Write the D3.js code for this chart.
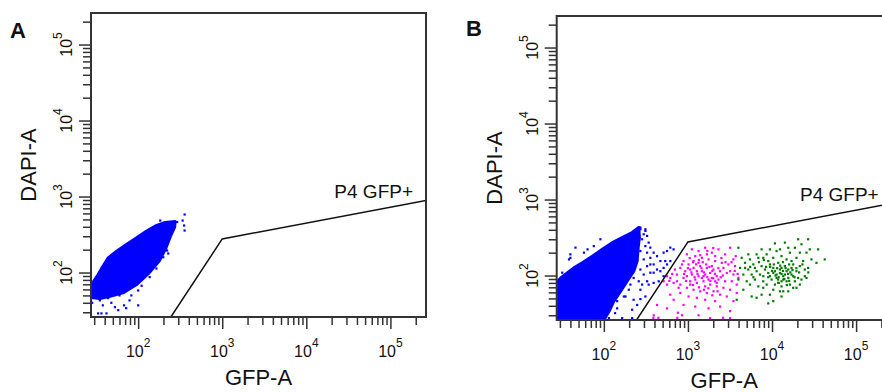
<!DOCTYPE html>
<html><head><meta charset="utf-8">
<script src="https://cdn.jsdelivr.net/npm/d3@7"></script>
<style>
body{margin:0;background:#fff}
svg{display:block}
text{font-family:"Liberation Sans",Arial,sans-serif;fill:#111}
</style>
</head><body>
<svg id="chart" width="882" height="392"></svg>
<script>
// ---------- data ----------
const xDomain = [27.5, 265000];
const yDomain = [26, 260000];
const majorTicks = [100, 1000, 10000, 100000];
const majorExp = ["2", "3", "4", "5"];
const xMinorTicks = [30,40,50,60,70,80,90,200,300,400,500,600,700,800,900,2000,3000,4000,5000,6000,7000,8000,9000,20000,30000,40000,50000,60000,70000,80000,90000,200000];
const yMinorTicks = [30,40,50,60,70,80,90,200,300,400,500,600,700,800,900,2000,3000,4000,5000,6000,7000,8000,9000,20000,30000,40000,50000,60000,70000,80000,90000,200000];
const xTitle = "GFP-A";
const yTitle = "DAPI-A";
const gateName = "P4 GFP+";
const gate = [[245,26],[1000,277],[265000,886]];

// Panel A: dense blue population outline (GFP, DAPI)
const blueCoreA = [[275,468],[210,455],[160,410],[125,350],[95,285],[71,230],[56,192],[44,156],[38,120],[33,92],[28.5,72],[27.6,68],[27.6,47],[35,45.5],[44,48],[66,54],[95,69],[136,100],[178,142],[214,210],[245,310],[272,395]];
// Panel A: scattered blue events
const blueSparseA = [[357,580],[338,483],[352,416],[357,357],[183,483],[291,462],[250,326],[228,178],[221,195],[199,159],[165,113],[137,87],[110,67],[100,58],[83,50],[79,43],[68,37],[58,32],[72,34],[48,40],[38,37],[33.4,29],[36.6,29],[42,29],[31,47],[35,43],[44,46],[37,116],[33.4,91],[48,152],[31,58],[100,37],[60,50],[32,67],[28.4,40],[53,35]];

// Panel B: dense blue population outline
const blueCoreB = [[260,428],[217,368],[165,316],[126,271],[96,221],[73,180],[55.5,147],[44,126],[37,109],[30.7,93],[28,83],[28,26],[100,26],[115,33.6],[131,45.7],[158,62],[189,84],[227,114],[249,155],[256,233],[265,316]];
// Panel B: scattered blue events
const blueSparseB = [[272,428],[312,406],[298,349],[327,332],[285,300],[341,271],[312,244],[357,233],[272,210],[327,200],[391,200],[429,180],[357,171],[298,163],[470,155],[538,155],[617,155],[391,140],[327,133],[272,120],[429,120],[514,126],[357,109],[298,103],[226,93],[260,84],[207,76],[327,84],[391,80],[198,65],[173,53],[144,46],[120,41],[110,35.5],[144,37],[217,35.5],[165,27.5],[217,27.5],[115,27.5],[58,200],[40,190],[76,244],[91,300],[48,133],[32,109],[46,233],[64,221],[40,171],[38.5,163],[272,406],[312,386],[514,200],[564,210],[617,233],[675,221],[564,140],[357,140],[272,65],[312,53],[249,41],[226,48],[391,109],[470,114],[514,98],[449,84],[341,76],[136,32],[181,53],[272,49],[285,76]];
// Panel B: gated intermediate events (magenta)
const pinkB = [[1115,221],[1337,210],[1603,232],[1923,200],[2307,221],[2767,190],[3170,232],[3475,163],[1222,180],[1465,171],[1758,163],[2108,155],[2529,147],[3029,140],[3631,133],[887,155],[1018,140],[1167,126],[1400,133],[1679,126],[2014,120],[2415,114],[2897,108],[3475,103],[811,126],[929,114],[1115,103],[1337,98],[1603,103],[1923,93],[2307,88.5],[2767,84],[3319,84],[740,103],[887,93],[1065,84],[1277,80],[1531,84],[1837,76],[2203,72],[2643,69],[3170,65],[617,93],[676,80],[811,76],[972,69],[1167,65],[1400,62],[1679,59],[2014,62],[2415,56],[564,76],[514,84],[564,98],[811,59],[1018,53],[1277,51],[1603,48],[2108,46],[2897,53],[3475,46],[676,48],[887,41],[1222,39],[1758,37],[2415,39],[3170,34],[429,41],[564,37],[850,30],[1337,30],[1837,27.5],[392,30],[3170,27.5],[3802,59],[3981,93],[1167,155],[972,190],[740,84],[1603,72],[2203,98],[1465,114],[1065,120],[1277,114],[1531,98],[1837,108],[1222,88.5],[1465,93],[1758,88.5],[2108,84],[972,98],[1065,76],[1923,133],[2643,126],[1337,147],[1679,190],[2108,180],[775,69],[3170,114],[3802,76],[617,56],[388,27.8],[445,27.8],[747,27.8],[2618,27.8],[760,32.4],
  [1050,170],[1150,150],[1250,140],[1350,160],[1500,150],[1650,140],[1800,130],[1950,115],[2100,105],[2300,125],[1100,110],[1200,95],[1300,105],[1450,125],[1550,110],[1700,95],[1850,85],[2000,92],[2200,80],[2450,95],[1000,125],[900,105],[950,85],[1150,75],[1350,70],[1550,65],[1750,68],[1950,55],[2250,62],[2600,100],[2800,150],[3300,150],[3600,115],[3900,105],[3700,180],[850,140],[700,120],[650,105],[600,85],[1400,185],[1700,210],[2000,230],[2500,170]];
// Panel B: GFP-high events (green)
const greenB = [[20460,300],[26900,300],[14220,271],[10820,265],[22390,258],[18700,232],[28120,221],[35320,221],[9440,221],[12420,221],[15600,232],[7516,221],[25700,200],[16300,200],[21420,200],[11330,210],[8630,190],[6560,190],[5224,190],[3981,232],[4360,171],[5470,163],[6871,171],[7870,171],[10350,171],[12970,180],[19540,171],[29440,163],[42360,163],[33730,147],[23440,155],[17060,155],[14890,163],[9020,155],[4775,147],[5998,140],[7516,133],[9440,140],[11850,147],[14220,133],[17860,140],[21420,133],[26900,126],[4169,126],[5224,120],[6560,114],[8240,120],[10350,126],[12420,120],[15600,120],[19540,114],[24550,120],[4560,103],[5728,103],[7194,103],[9020,108],[11330,103],[13590,98],[17060,103],[20460,93],[3981,88.5],[5000,84],[6266,88.5],[7870,84],[9880,88.5],[11850,88.5],[14890,84],[18700,84],[22390,88.5],[5470,76],[6871,72],[8630,76],[10820,76],[12970,72],[16300,76],[10350,65],[12420,62],[15600,62],[4560,65],[5728,53],[7516,56],[6560,51],[9440,56],[12970,53],[19540,69],[9020,43],[10350,46],[3802,48],[13590,62],[24550,98],[25700,93],[9440,98],[7870,98],[12970,126],[10820,114],[11330,93],[13590,88.5],[11850,80],[6266,126],[4775,126],[7870,69],[17860,69],[21420,76],[12420,108],[14220,103],[15600,93],[12970,84],[17860,98],[10350,108],[14890,114],[17060,126],
  [9500,130],[10500,140],[11500,125],[12500,135],[13500,115],[14500,125],[15500,105],[16500,110],[17500,118],[18500,95],[11000,100],[12000,95],[13000,105],[14000,90],[16000,85],[10000,115],[8500,130],[9000,95],[19500,125],[21000,110],[7000,150],[8000,160],[16000,140],[13500,150],[6000,95],[5500,130],[23000,140],[27000,110],[12000,80],[15000,75]];

// ---------- layout ----------
const PW = 335, PH = 304;
const colors = {blue:"#0000ff", pink:"#ff00ff", green:"#007a00", ink:"#333"};
const panels = [
  {name:"A", left:91, top:13, letterX:10, letterY:38, core:blueCoreA, sparse:blueSparseA, pink:[], green:[]},
  {name:"B", left:556.7, top:16, letterX:466, letterY:36, core:blueCoreB, sparse:blueSparseB, pink:pinkB, green:greenB}
];

const svg = d3.select("#chart");

function cleanAxis(s){
  s.select(".domain").remove();
  s.selectAll("line").attr("stroke", colors.ink).attr("stroke-width", 1.5);
  s.selectAll("text").remove();
}

panels.forEach(p => {
  svg.append("text").attr("x", p.letterX).attr("y", p.letterY)
    .attr("font-size", 22).attr("font-weight", "bold").text(p.name);

  const g = svg.append("g").attr("transform", `translate(${p.left},${p.top})`);
  const x = d3.scaleLog().domain(xDomain).range([0, PW]);
  const y = d3.scaleLog().domain(yDomain).range([PH, 0]);

  const clipId = "clip" + p.name;
  g.append("clipPath").attr("id", clipId).append("rect").attr("width", PW).attr("height", PH);
  const plot = g.append("g").attr("clip-path", `url(#${clipId})`);

  const line = d3.line().x(d => x(d[0])).y(d => y(d[1]));

  plot.append("path").attr("d", line(p.core) + "Z")
    .attr("fill", colors.blue).attr("stroke", colors.blue).attr("stroke-width", 3)
    .attr("stroke-linejoin", "round");

  const drawDots = (data, color) => plot.append("g").selectAll("rect").data(data).join("rect")
    .attr("x", d => x(d[0]) - 1.1).attr("y", d => y(d[1]) - 1.1)
    .attr("width", 2.2).attr("height", 2.2).attr("fill", color);
  drawDots(p.sparse, colors.blue);
  drawDots(p.pink, colors.pink);
  drawDots(p.green, colors.green);

  plot.append("path").attr("d", line(gate)).attr("fill", "none")
    .attr("stroke", "#111").attr("stroke-width", 1.5);

  g.append("text").attr("x", PW - 13).attr("y", 185).attr("text-anchor", "end")
    .attr("font-size", 19).text(gateName);

  // frame
  g.append("rect").attr("width", PW).attr("height", PH)
    .attr("fill", "none").attr("stroke", colors.ink).attr("stroke-width", 2);

  // x axis
  const xa = g.append("g").attr("transform", `translate(0,${PH})`);
  xa.append("g").call(d3.axisBottom(x).tickValues(xMinorTicks).tickSize(8).tickFormat(() => "")).call(cleanAxis);
  xa.append("g").call(d3.axisBottom(x).tickValues(majorTicks).tickSize(12).tickFormat(() => "")).call(cleanAxis);
  majorTicks.forEach((v, k) => {
    const t = g.append("text").attr("x", x(v)).attr("y", PH + 40)
      .attr("text-anchor", "middle").attr("font-size", 16);
    t.append("tspan").text("10");
    t.append("tspan").attr("dy", -10).attr("font-size", 12).text(majorExp[k]);
  });

  // y axis
  const ya = g.append("g");
  ya.append("g").call(d3.axisLeft(y).tickValues(yMinorTicks).tickSize(8).tickFormat(() => "")).call(cleanAxis);
  ya.append("g").call(d3.axisLeft(y).tickValues(majorTicks).tickSize(12).tickFormat(() => "")).call(cleanAxis);
  majorTicks.forEach((v, k) => {
    const t = g.append("text").attr("transform", `translate(-19,${y(v)}) rotate(-90)`)
      .attr("text-anchor", "middle").attr("font-size", 16);
    t.append("tspan").text("10");
    t.append("tspan").attr("dy", -10).attr("font-size", 12).text(majorExp[k]);
  });

  g.append("text").attr("x", PW / 2).attr("y", PH + 67.5).attr("text-anchor", "middle")
    .attr("font-size", 22).text(xTitle);
  g.append("text").attr("transform", `translate(-55,${PH / 2}) rotate(-90)`)
    .attr("text-anchor", "middle").attr("font-size", 22).text(yTitle);
});
</script>
</body></html>
